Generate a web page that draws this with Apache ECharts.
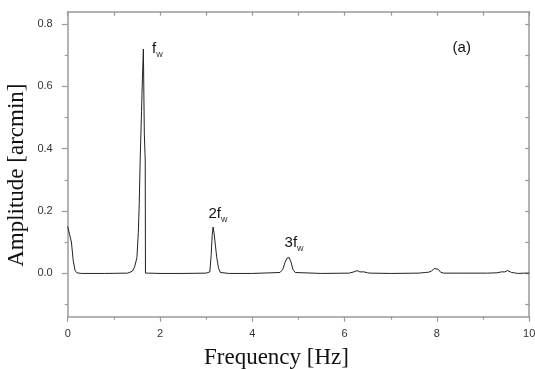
<!DOCTYPE html>
<html>
<head>
<meta charset="utf-8">
<script src="https://cdn.jsdelivr.net/npm/echarts@6/dist/echarts.min.js"></script>
<style>
html,body{margin:0;padding:0;background:#fff;}
#chart{width:535px;height:369px;}
</style>
</head>
<body>
<div id="chart"></div>
<script>
// ---- data ----
var freq = [0, 0.04, 0.08, 0.12, 0.16, 0.2, 0.3, 0.8, 1.3, 1.4, 1.45, 1.5, 1.53, 1.55, 1.57, 1.6, 1.62, 1.64, 1.66, 1.68, 1.685, 1.75, 2.0, 2.5, 3.0, 3.08, 3.11, 3.13, 3.15, 3.17, 3.2, 3.23, 3.27, 3.31, 3.5, 4.0, 4.6, 4.66, 4.71, 4.75, 4.8, 4.84, 4.88, 4.93, 5.5, 6.1, 6.2, 6.27, 6.33, 6.37, 6.42, 6.46, 6.5, 6.55, 7.0, 7.6, 7.75, 7.82, 7.88, 7.94, 7.98, 8.03, 8.08, 8.15, 8.5, 9.1, 9.3, 9.4, 9.47, 9.53, 9.57, 9.62, 9.68, 9.75, 9.9, 10];
var amplitude = [0.15, 0.125, 0.10, 0.04, 0.008, 0.001, -0.001, -0.001, 0.0, 0.006, 0.02, 0.05, 0.13, 0.22, 0.36, 0.52, 0.63, 0.72, 0.45, 0.36, 0.0, 0.0, -0.001, -0.001, 0.0, 0.004, 0.06, 0.12, 0.148, 0.13, 0.09, 0.05, 0.015, 0.002, -0.001, -0.001, 0.002, 0.012, 0.035, 0.048, 0.05, 0.035, 0.012, 0.002, -0.001, 0.0, 0.004, 0.008, 0.004, 0.0, 0.004, 0.005, 0.001, 0.0, -0.001, 0.0, 0.002, 0.003, 0.006, 0.015, 0.019, 0.012, 0.003, 0.0, 0.0, 0.0, 0.001, 0.004, 0.004, 0.008, 0.006, 0.002, 0.001, -0.001, 0.0, 0.0];

var yLabelValues = [0, 0.2, 0.4, 0.6, 0.8];
var yMinorTickValues = [-0.1, 0.1, 0.3, 0.5, 0.7];
var yAllTickValues = [-0.1, 0, 0.1, 0.2, 0.3, 0.4, 0.5, 0.6, 0.7, 0.8];

var annoText = ['f', '2f', '3f', '(a)'];
var annoSub = ['w', 'w', 'w', ''];
var annoX = [1.84, 3.06, 4.71, 8.35];
var annoY = [0.685, 0.156, 0.063, 0.689];

var xName = 'Frequency [Hz]';
var yName = 'Amplitude [arcmin]';

// ---- chart ----
var chart = echarts.init(document.getElementById('chart'), null, {renderer: 'canvas'});
var axisColor = '#9a9a9a';
var labelStyle = {color: '#333', fontFamily: 'Liberation Sans, Arial, sans-serif', fontSize: 11};

var pts = freq.map(function (f, i) { return [f, amplitude[i]]; });
var marks = annoText.map(function (t, i) {
  return {
    coord: [annoX[i], annoY[i]],
    label: {formatter: '{m|' + t + '}' + (annoSub[i] ? '{s|' + annoSub[i] + '}' : '')}
  };
});

chart.setOption({
  animation: false,
  backgroundColor: '#fff',
  grid: {left: 67.7, right: 5.8, top: 11.7, bottom: 52.3, containLabel: false, outerBoundsMode: 'none'},
  xAxis: [
    {
      type: 'value', position: 'bottom', min: 0, max: 10, interval: 2,
      axisLine: {show: true, onZero: false, lineStyle: {color: axisColor, width: 1.5}},
      axisTick: {show: true, inside: false, length: 5, lineStyle: {color: axisColor, width: 1.2}},
      minorTick: {show: true, splitNumber: 2, length: 3, lineStyle: {color: axisColor, width: 1.2}},
      axisLabel: Object.assign({margin: 12}, labelStyle),
      splitLine: {show: false},
      name: xName, nameLocation: 'middle', nameGap: 30, nameMoveOverlap: false,
      nameTextStyle: {fontFamily: 'Liberation Serif, Times New Roman, serif', fontSize: 23, color: '#111', padding: [0, 44, 0, 0]}
    },
    {
      type: 'value', position: 'top', min: 0, max: 10, interval: 1,
      axisLine: {show: true, onZero: false, lineStyle: {color: axisColor, width: 1.5}},
      axisTick: {show: true, inside: true, length: 4, lineStyle: {color: axisColor, width: 1.2}},
      axisLabel: {show: false}, splitLine: {show: false}
    }
  ],
  yAxis: [
    {
      type: 'value', position: 'left', min: -0.14, max: 0.84,
      axisLine: {show: true, onZero: false, lineStyle: {color: axisColor, width: 1.5}},
      axisTick: {show: true, inside: false, length: 6, customValues: yLabelValues, lineStyle: {color: axisColor, width: 1.2}},
      axisLabel: Object.assign({margin: 15, customValues: yLabelValues, formatter: function (v) { return v.toFixed(1); }}, labelStyle),
      splitLine: {show: false},
      name: yName, nameLocation: 'middle', nameGap: 39, nameRotate: 90, nameMoveOverlap: false,
      nameTextStyle: {fontFamily: 'Liberation Serif, Times New Roman, serif', fontSize: 23, color: '#111', padding: [0, 22, 0, 0]}
    },
    {
      type: 'value', position: 'left', min: -0.14, max: 0.84,
      axisLine: {show: false, onZero: false},
      axisTick: {show: true, inside: false, length: 3, customValues: yMinorTickValues, lineStyle: {color: axisColor, width: 1.2}},
      axisLabel: {show: false}, splitLine: {show: false}
    },
    {
      type: 'value', position: 'right', min: -0.14, max: 0.84,
      axisLine: {show: true, onZero: false, lineStyle: {color: axisColor, width: 1.5}},
      axisTick: {show: true, inside: true, length: 4, customValues: yAllTickValues, lineStyle: {color: axisColor, width: 1.2}},
      axisLabel: {show: false}, splitLine: {show: false}
    }
  ],
  series: [{
    type: 'line', xAxisIndex: 0, yAxisIndex: 0,
    data: pts, showSymbol: false, symbol: 'none',
    lineStyle: {color: '#222', width: 1},
    silent: true,
    markPoint: {
      symbol: 'circle', symbolSize: 1,
      itemStyle: {color: 'rgba(0,0,0,0)'},
      label: {
        show: true, position: [0, 0], align: 'left', verticalAlign: 'bottom',
        rich: {
          m: {fontFamily: 'Liberation Sans, Arial, sans-serif', fontSize: 15, color: '#111', verticalAlign: 'top', padding: [0, 0, 3, 0]},
          s: {fontFamily: 'Liberation Sans, Arial, sans-serif', fontSize: 9, color: '#333', verticalAlign: 'bottom'}
        }
      },
      data: marks
    }
  }]
});
</script>
</body>
</html>
